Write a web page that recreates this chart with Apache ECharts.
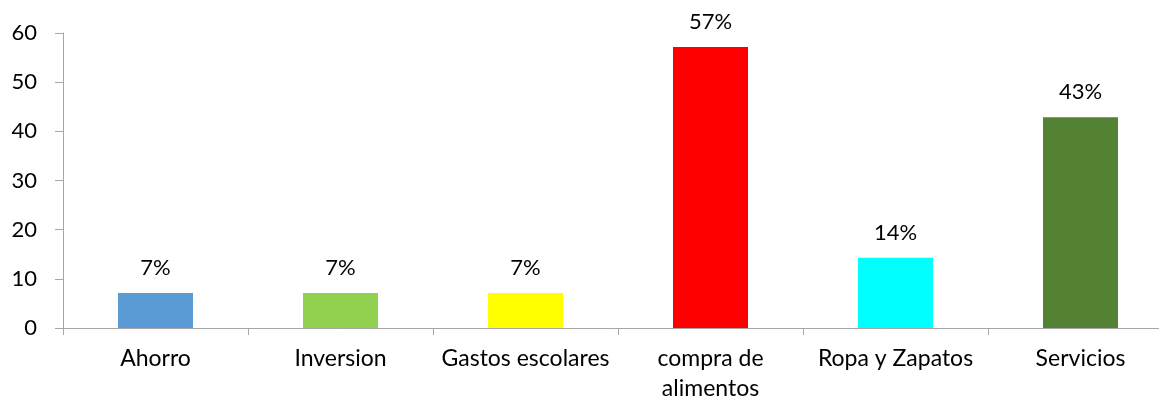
<!DOCTYPE html>
<html>
<head>
<meta charset="utf-8">
<script src="https://cdn.jsdelivr.net/npm/echarts@6/dist/echarts.min.js"></script>
<style>
html,body{margin:0;padding:0;background:#fff;}
#chart{width:1159px;height:405px;}
</style>
</head>
<body>
<div id="chart"></div>
<script>
var categories = ["Ahorro", "Inversion", "Gastos escolares", "compra de\nalimentos", "Ropa y Zapatos", "Servicios"];
var values = [7.14, 7.14, 7.14, 57.14, 14.29, 42.86];
var valueLabels = ["7%", "7%", "7%", "57%", "14%", "43%"];
var barColors = ["#5B9BD5", "#92D050", "#FFFF00", "#FF0000", "#00FFFF", "#548235"];
var yTicks = [0, 10, 20, 30, 40, 50, 60];

var FONT = "Lato";
var chart = echarts.init(document.getElementById('chart'), null, {renderer: 'canvas'});
chart.setOption({
  animation: false,
  backgroundColor: '#ffffff',
  grid: {left: 63, width: 1110, top: 33, bottom: 77, containLabel: false, outerBoundsMode: 'none'},
  xAxis: {
    type: 'category',
    data: categories,
    axisLine: {lineStyle: {color: '#A6A6A6', width: 1}},
    axisTick: {show: true, length: 7, lineStyle: {color: '#A6A6A6'}},
    axisLabel: {color: '#000', fontFamily: FONT, fontSize: 23, lineHeight: 30, margin: 16, interval: 0}
  },
  yAxis: {
    type: 'value',
    min: yTicks[0],
    max: yTicks[yTicks.length - 1],
    interval: yTicks[1] - yTicks[0],
    splitLine: {show: false},
    axisLine: {show: true, lineStyle: {color: '#A6A6A6', width: 1}},
    axisTick: {show: true, length: 8, lineStyle: {color: '#A6A6A6'}},
    axisLabel: {color: '#000', fontFamily: FONT, fontSize: 22, margin: 26}
  },
  series: [{
    type: 'bar',
    barWidth: 75,
    data: values.map(function (v, i) {
      return {value: v, itemStyle: {color: barColors[i]}};
    }),
    label: {
      show: true,
      position: 'top',
      distance: 14,
      color: '#000',
      fontFamily: FONT,
      fontSize: 22,
      formatter: function (p) { return valueLabels[p.dataIndex]; }
    }
  }]
});
</script>
</body>
</html>
